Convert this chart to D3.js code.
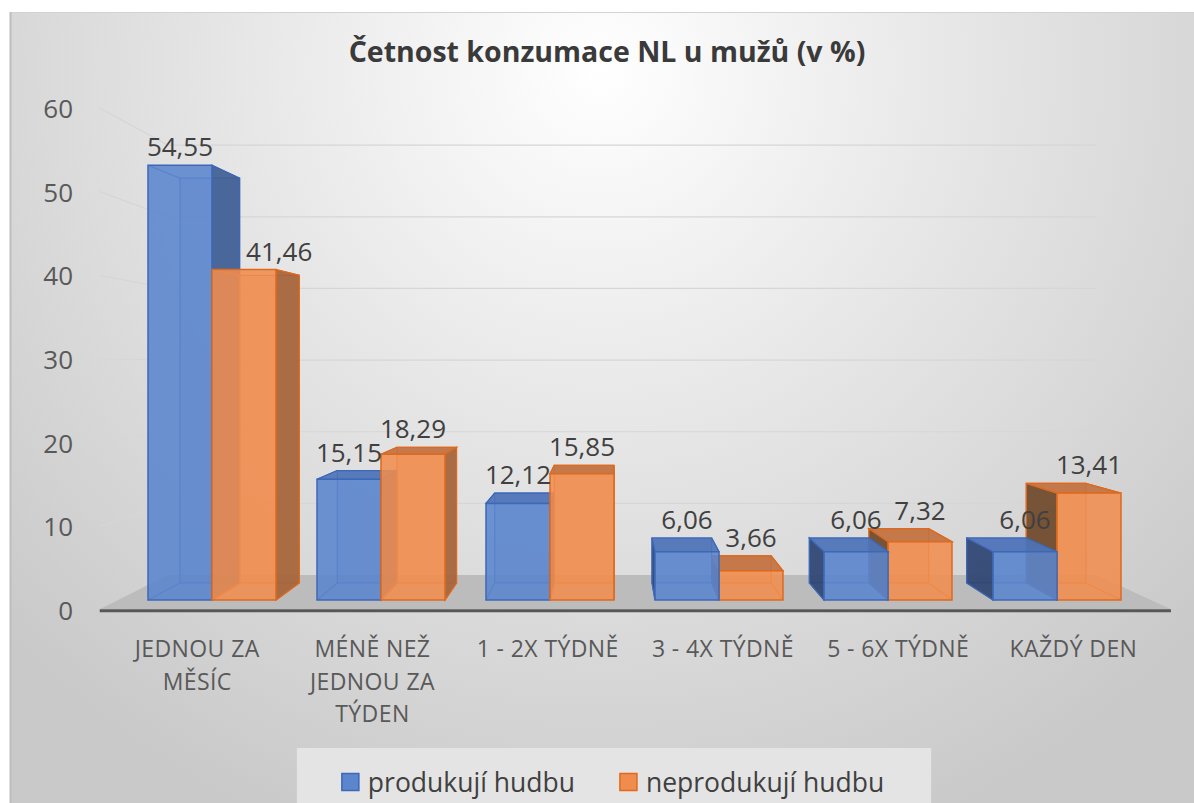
<!DOCTYPE html>
<html><head><meta charset="utf-8">
<script src="https://cdn.jsdelivr.net/npm/d3@7"></script>
<style>body{margin:0;background:#fff;} svg{display:block}</style>
</head><body><svg id="c" width="1194" height="803"></svg>
<script>
// ---------- data ----------
const title = "Četnost konzumace NL u mužů (v %)";
const categories = ["JEDNOU ZA MĚSÍC", "MÉNĚ NEŽ JEDNOU ZA TÝDEN", "1 - 2X TÝDNĚ", "3 - 4X TÝDNĚ", "5 - 6X TÝDNĚ", "KAŽDÝ DEN"];
const seriesNames = ["produkují hudbu", "neprodukují hudbu"];
const produkuji = [54.55, 15.15, 12.12, 6.06, 6.06, 6.06];
const neprodukuji = [41.46, 18.29, 15.85, 3.66, 7.32, 13.41];
const yTicks = [0, 10, 20, 30, 40, 50, 60];
const seriesValues = [produkuji, neprodukuji];

// ---------- styles ----------
const colors = [
  {front:"#5b85cd", edge:"#3d68b8", sideR:"#3f5e94", sideL:"#2f4572", top:"#4e73b8"},
  {front:"#f08d4e", edge:"#dd6a1e", sideR:"#a5643a", sideL:"#6e4a2c", top:"#c27240"}
];
const fmt = v => d3.format(".2f")(v).replace(".", ",");

const svg = d3.select("#c");
const W = 1194, H = 803;
const defs = svg.append("defs");
const rg = defs.append("radialGradient").attr("id","bg").attr("gradientUnits","userSpaceOnUse")
  .attr("cx",600).attr("cy",70).attr("r",820);
rg.append("stop").attr("offset",0).attr("stop-color","#ffffff");
rg.append("stop").attr("offset",0.45).attr("stop-color","#e6e6e6");
rg.append("stop").attr("offset",1).attr("stop-color","#c9c9c9");

svg.append("rect").attr("x",10).attr("y",12).attr("width",W-10).attr("height",H-12).attr("fill","url(#bg)");
svg.append("line").attr("x1",10).attr("x2",W).attr("y1",12.5).attr("y2",12.5).attr("stroke","#d2d2d2").attr("stroke-width",1);
svg.append("line").attr("x1",10.5).attr("x2",10.5).attr("y1",12).attr("y2",H).attr("stroke","#bdbdbd").attr("stroke-width",2);

// ---------- perspective ----------
const VP = {x: 612, y: 353};
const S = {wallFront: 1.037, barFront: 1, barBack: 0.931, wallBack: 0.899};
const P = (x, y, s) => [VP.x + s * (x - VP.x), VP.y + s * (y - VP.y)];

const x = d3.scaleBand().domain(categories).range([118, 1151]).paddingInner(0.2426).paddingOuter(0.1775);
const xs = d3.scaleBand().domain(seriesNames).range([0, x.bandwidth()]);
const y = d3.scaleLinear().domain([0, 60]).range([600, 600 - 60 * 7.97]);
const yTick = d3.scaleLinear().domain([0, 60]).range([610, 108]);
const [L, R] = x.range();

// ---------- floor ----------
const fl = [P(L, y(0), S.wallFront), P(R, y(0), S.wallFront), P(R, y(0), S.wallBack), P(L, y(0), S.wallBack)];
svg.append("polygon").attr("points", fl.map(p => p.join(",")).join(" ")).attr("fill", "#bcbcbc");
svg.append("line").attr("x1", fl[0][0]).attr("x2", fl[1][0]).attr("y1", fl[0][1] + 1.5).attr("y2", fl[1][1] + 1.5)
  .attr("stroke", "#575757").attr("stroke-width", 3);

// ---------- gridlines ----------
const grid = svg.append("g").attr("fill", "none").attr("stroke", "#d6d6d6").attr("stroke-width", 1.2);
yTicks.filter(t => t > 0).forEach(t => {
  const a = [fl[0][0], yTick(t)];
  const b = P(L, y(t), S.wallBack);
  const c = P(R, y(t), S.wallBack);
  grid.append("polyline").attr("points", [a, b, c].map(p => p.join(",")).join(" "));
});

// ---------- tick labels ----------
svg.append("g").selectAll("text").data(yTicks).join("text")
  .attr("x", 73).attr("y", d => yTick(d)).attr("text-anchor", "end").attr("dominant-baseline", "central")
  .attr("font-family", "Open Sans").attr("font-size", 26).attr("fill", "#595959").text(d => d);

// ---------- bars ----------
const bars = [];
categories.forEach((c, i) => seriesNames.forEach((sn, j) => {
  const v = seriesValues[j][i];
  const x0 = x(c) + xs(sn), x1 = x0 + xs.bandwidth();
  bars.push({i, j, v, x0, x1, yt: y(v), yb: y(0), cx: (x0 + x1) / 2});
}));
const drawOrder = bars.slice().sort((a, b) => Math.abs(b.cx - VP.x) - Math.abs(a.cx - VP.x));
const gb = svg.append("g");
const poly = pts => pts.map(p => p.join(",")).join(" ");
drawOrder.forEach(b => {
  const col = colors[b.j];
  const F = {tl: P(b.x0, b.yt, S.barFront), tr: P(b.x1, b.yt, S.barFront), br: P(b.x1, b.yb, S.barFront), bl: P(b.x0, b.yb, S.barFront)};
  const B = {tl: P(b.x0, b.yt, S.barBack), tr: P(b.x1, b.yt, S.barBack), br: P(b.x1, b.yb, S.barBack), bl: P(b.x0, b.yb, S.barBack)};
  const g = gb.append("g");
  g.append("polygon").attr("points", poly([B.tl, B.tr, B.br, B.bl])).attr("fill", col.front).attr("fill-opacity", 0.25)
    .attr("stroke", col.edge).attr("stroke-width", 1.2);
  ["tl", "tr", "br", "bl"].forEach(k => g.append("line").attr("x1", F[k][0]).attr("y1", F[k][1]).attr("x2", B[k][0]).attr("y2", B[k][1])
    .attr("stroke", col.edge).attr("stroke-width", 1.2));
  if (b.cx < VP.x) {
    g.append("polygon").attr("points", poly([F.tr, B.tr, B.br, F.br])).attr("fill", col.sideR).attr("fill-opacity", 0.92)
      .attr("stroke", col.edge).attr("stroke-width", 1.2);
  } else {
    g.append("polygon").attr("points", poly([F.tl, B.tl, B.bl, F.bl])).attr("fill", col.sideL).attr("fill-opacity", 0.92)
      .attr("stroke", col.edge).attr("stroke-width", 1.2);
  }
  if (b.yt > VP.y) {
    g.append("polygon").attr("points", poly([F.tl, F.tr, B.tr, B.tl])).attr("fill", col.top).attr("fill-opacity", 0.92)
      .attr("stroke", col.edge).attr("stroke-width", 1.2);
  }
  g.append("polygon").attr("points", poly([F.tl, F.tr, F.br, F.bl])).attr("fill", col.front).attr("fill-opacity", 0.88)
    .attr("stroke", col.edge).attr("stroke-width", 1.5);
});

// ---------- data labels ----------
const topOf = b => Math.min(P(b.x0, b.yt, S.barFront)[1], P(b.x0, b.yt, S.barBack)[1]);
const gl = svg.append("g");
bars.forEach(b => {
  let lx = b.cx;
  const ly = topOf(b) - 19;
  if (b.j === 1) {
    const nb = bars.find(o => o.i === b.i && o.j === 0);
    if (topOf(nb) < ly - 12) lx += xs.bandwidth() * 0.55;
  }
  gl.append("text").attr("x", lx).attr("y", ly).attr("text-anchor", "middle").attr("dominant-baseline", "central")
    .attr("font-family", "Open Sans").attr("font-size", 26).attr("fill", "#404040").text(fmt(b.v));
});

// ---------- category labels ----------
const gc = svg.append("g");
categories.forEach(c => {
  const cxp = P(x(c) + x.bandwidth() / 2, y(0), S.wallFront)[0];
  const t = gc.append("text").attr("x", cxp).attr("y", 648).attr("text-anchor", "middle").attr("dominant-baseline", "central")
    .attr("font-family", "Open Sans").attr("font-size", 23).attr("letter-spacing", 0.4).attr("fill", "#595959");
  const words = c.split(" ");
  let lines = [], cur = [];
  const maxW = x.step() * 0.9;
  const probe = t.append("tspan");
  words.forEach(w => {
    const test = cur.concat([w]).join(" ");
    probe.text(test);
    if (probe.node().getComputedTextLength() > maxW && cur.length) { lines.push(cur.join(" ")); cur = [w]; }
    else cur.push(w);
  });
  lines.push(cur.join(" "));
  probe.remove();
  lines.forEach((ln, k) => t.append("tspan").attr("x", cxp).attr("dy", k === 0 ? 0 : 32.5).text(ln));
});

// ---------- title ----------
svg.append("text").attr("x", 607).attr("y", 51).attr("text-anchor", "middle").attr("dominant-baseline", "central")
  .attr("font-family", "Open Sans").attr("font-weight", "bold").attr("font-size", 28.5).attr("fill", "#3a3a3a").text(title);

// ---------- legend ----------
const lg = svg.append("g");
const box = lg.append("rect").attr("fill", "#e4e4e4");
const items = [];
let cxL = 0;
seriesNames.forEach((sn, j) => {
  const sq = lg.append("rect").attr("width", 17).attr("height", 17).attr("fill", colors[j].front).attr("stroke", colors[j].edge).attr("stroke-width", 1.5);
  const tx = lg.append("text").attr("font-family", "Open Sans").attr("font-size", 26.5).attr("fill", "#404040")
    .attr("dominant-baseline", "central").text(sn);
  const w = tx.node().getComputedTextLength();
  items.push({sq, tx, x: cxL, w});
  cxL += 17 + 9 + w + 45;
});
const total = cxL - 45;
const lx0 = 613 - total / 2;
const lyc = 782;
items.forEach(it => {
  it.sq.attr("x", lx0 + it.x).attr("y", lyc - 8.5);
  it.tx.attr("x", lx0 + it.x + 26).attr("y", lyc);
});
box.attr("x", lx0 - 45).attr("y", 748).attr("width", total + 92).attr("height", 60);
</script></body></html>
